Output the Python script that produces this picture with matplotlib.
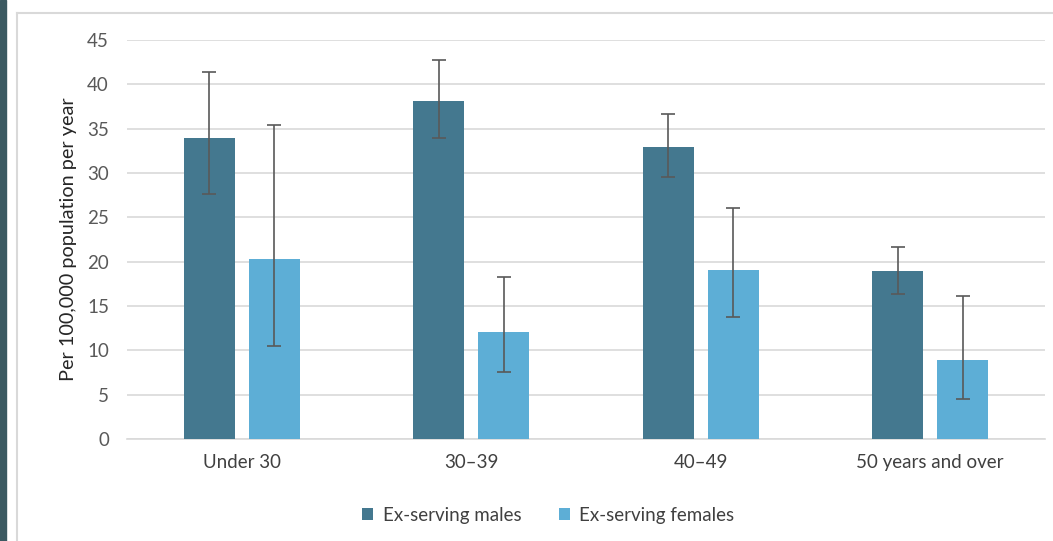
import matplotlib.pyplot as plt
import numpy as np
from matplotlib.patches import Rectangle
from matplotlib.lines import Line2D

plt.rcParams['font.family'] = ['Lato', 'DejaVu Sans']

categories = ['Under 30', '30\u201339', '40\u201349', '50 years and over']
males = [34.0, 38.1, 32.9, 18.9]
males_lo = [27.6, 34.0, 29.5, 16.3]
males_hi = [41.4, 42.7, 36.7, 21.7]
females = [20.3, 12.1, 19.1, 8.9]
females_lo = [10.5, 7.6, 13.8, 4.5]
females_hi = [35.4, 18.3, 26.0, 16.1]

c_male = '#44788f'
c_female = '#5daed6'

W, H = 1053, 541
fig = plt.figure(figsize=(W / 100, H / 100), dpi=100)

# page decorations: dark strip on the left and the chart frame
fig.patches.append(Rectangle((0, 0), 6 / W, 1, transform=fig.transFigure,
                             color='#3b5961', zorder=0))
fig.lines.append(Line2D([17 / W, 17 / W], [0, 1 - 13 / H], transform=fig.transFigure,
                        color='#d9d9d9', lw=1.5))
fig.lines.append(Line2D([17 / W, 1], [1 - 13 / H, 1 - 13 / H], transform=fig.transFigure,
                        color='#d9d9d9', lw=1.5))

ax = fig.add_axes([127 / W, 1 - 439 / H, (1045 - 127) / W, (439 - 40) / H])

x = np.arange(len(categories))
bw = 0.222
off = 0.142
m_err = [np.array(males) - np.array(males_lo), np.array(males_hi) - np.array(males)]
f_err = [np.array(females) - np.array(females_lo), np.array(females_hi) - np.array(females)]

ekw = dict(ecolor='#595959', elinewidth=1.2, capsize=5, capthick=1.2)
ax.bar(x - off, males, bw, color=c_male, yerr=m_err, error_kw=ekw,
       label='Ex-serving males', zorder=3)
ax.bar(x + off, females, bw, color=c_female, yerr=f_err, error_kw=ekw,
       label='Ex-serving females', zorder=3)

ax.set_xlim(-0.5, len(categories) - 0.5)
ax.set_ylim(0, 45)
ax.set_yticks(np.arange(0, 46, 5))
ax.grid(axis='y', color='#d9d9d9', lw=1.2, zorder=0)
for s in ['top', 'right', 'left']:
    ax.spines[s].set_visible(False)
ax.spines['bottom'].set_color('#d9d9d9')
ax.spines['bottom'].set_linewidth(1.2)
ax.tick_params(axis='both', length=0, labelsize=13.5)
ax.tick_params(axis='y', colors='#595959', pad=13)
ax.tick_params(axis='x', colors='#404040', pad=11)
ax.set_xticks(x)
ax.set_xticklabels(categories)
ax.set_ylabel('Per 100,000 population per year', fontsize=14.3, color='#262626',
              labelpad=7)

ax.legend(loc='upper center', bbox_to_anchor=(0.459, -0.127), ncol=2, frameon=False,
          fontsize=13.5, handlelength=0.6, handleheight=0.6, columnspacing=2.0,
          handletextpad=0.5, labelcolor='#404040')

fig.savefig('out.png', dpi=100)
